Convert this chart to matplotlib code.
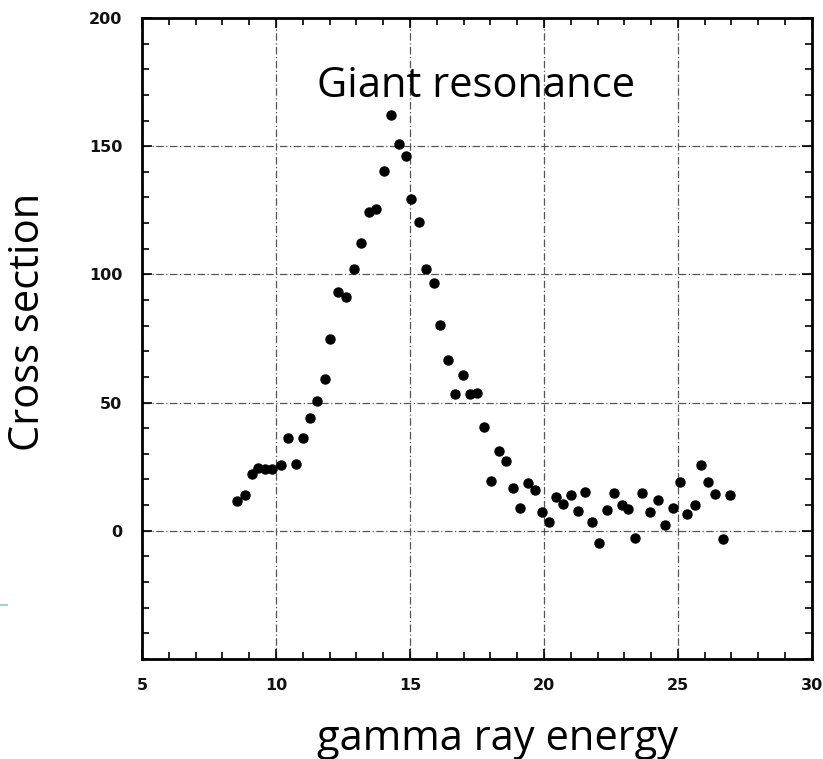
import numpy as np
import matplotlib
matplotlib.use('Agg')
from matplotlib import pyplot as plt
from matplotlib.ticker import MultipleLocator

# photo-absorption data
energy = [8.56, 8.83, 9.10, 9.32, 9.60, 9.86, 10.17, 10.45, 10.73, 11.00,
          11.27, 11.55, 11.84, 12.03, 12.32, 12.61, 12.92, 13.19, 13.48, 13.72,
          14.03, 14.31, 14.59, 14.86, 15.05, 15.33, 15.61, 15.89, 16.14, 16.41,
          16.70, 16.98, 17.23, 17.50, 17.75, 18.02, 18.31, 18.58, 18.84, 19.12,
          19.40, 19.67, 19.92, 20.20, 20.44, 20.72, 21.00, 21.26, 21.53, 21.80,
          22.06, 22.36, 22.62, 22.92, 23.14, 23.41, 23.67, 23.95, 24.26, 24.53,
          24.81, 25.06, 25.35, 25.64, 25.87, 26.12, 26.39, 26.67, 26.96]
cross_section = [11.7, 14.0, 22.3, 24.4, 24.0, 24.0, 25.5, 36.2, 26.2, 36.2,
                 44.0, 50.8, 59.2, 74.7, 93.3, 91.3, 102.2, 112.1, 124.3, 125.6,
                 140.3, 162.0, 150.7, 146.1, 129.5, 120.4, 102.0, 96.8, 80.3, 66.5,
                 53.3, 60.7, 53.3, 53.9, 40.3, 19.5, 31.1, 27.2, 16.5, 8.9,
                 18.6, 16.0, 7.5, 3.6, 13.0, 10.4, 14.0, 7.6, 15.0, 3.4,
                 -4.8, 8.1, 14.7, 10.1, 8.5, -2.7, 14.7, 7.5, 12.0, 2.4,
                 8.8, 19.1, 6.6, 10.2, 25.5, 19.1, 14.3, -3.1, 13.9]

x_ticks = [5, 10, 15, 20, 25, 30]
y_ticks = [0, 50, 100, 150, 200]

fig = plt.figure(figsize=(8.23, 7.59), dpi=100)
ax = fig.add_axes([0.1725, 0.1318, 0.814, 0.8445])

ax.plot(energy, cross_section, 'o', color='black', markersize=6.5)

ax.set_xlim(5, 30)
ax.set_ylim(-50, 200)
ax.set_xticks(x_ticks)
ax.set_yticks(y_ticks)
ax.xaxis.set_minor_locator(MultipleLocator(1))
ax.yaxis.set_minor_locator(MultipleLocator(10))
ax.tick_params(which='both', direction='in', top=True, right=True, width=1.2)
ax.tick_params(which='major', length=7, pad=14)
ax.tick_params(which='minor', length=5)
for lab in ax.get_xticklabels() + ax.get_yticklabels():
    lab.set_fontweight('bold')
    lab.set_fontsize(11.5)
    lab.set_color('#111111')

ax.grid(True, which='major', color='#555555', linewidth=0.9,
        dashes=(6, 2, 1, 2))
for s in ax.spines.values():
    s.set_linewidth(2)

font = 'Open Sans'
fig.text(0.605, 0.012, 'gamma ray energy', fontsize=30, family=font,
         ha='center', va='baseline')
fig.text(0.034, 0.5758, 'Cross section', fontsize=30, family=font,
         rotation=90, ha='center', va='center')
ax.text(17.48, 169, 'Giant resonance', fontsize=30, family=font,
        ha='center', va='baseline')

# small stray mark at the left edge of the slide
fig.add_artist(plt.Line2D([0, 0.009], [0.203, 0.203], color='#9fd3df', lw=1.5))

fig.savefig('out.png', dpi=100)
